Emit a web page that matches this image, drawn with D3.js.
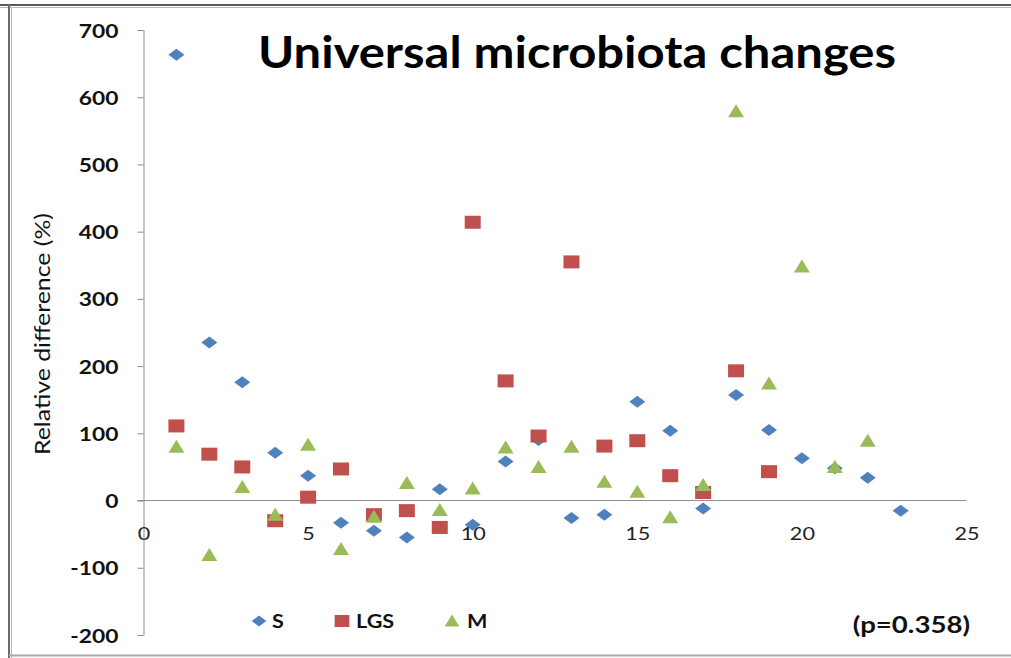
<!DOCTYPE html>
<html>
<head>
<meta charset="utf-8">
<script src="https://cdn.jsdelivr.net/npm/d3@7/dist/d3.min.js"></script>
<style>
  html, body { margin: 0; padding: 0; background: #fff; }
  svg { display: block; }
  text { font-family: Lato, "Open Sans", sans-serif; }
</style>
</head>
<body>
<svg id="chart" width="1011" height="658"></svg>
<script>
// Sample index along the x axis
const sampleIndex = d3.range(1, 24);

// Relative difference (%) per group
const seriesS   = [663, 235, 176, 71, 37, -33, -45, -55, 17, -36, 58, 90, -26, -21, 147, 104, -12, 157, 105, 63, 48, 34, -15];
const seriesLGS = [111, 69, 50, -30, 5, 47, -21, -15, -40, 414, 178, 96, 355, 81, 89, 37, 12, 193, 43];
const seriesM   = [80, -81, 20, -21, 83, -72, -24, 26, -14, 18, 79, 50, 80, 28, 13, -25, 23, 579, 174, 348, 50, 89];

const seriesNames = ["S", "LGS", "M"];
const seriesColors = ["#4F81BD", "#C0504D", "#9BBB59"];
const yTicks = [-200, -100, 0, 100, 200, 300, 400, 500, 600, 700];
const xTicks = [0, 5, 10, 15, 20, 25];

const titleText = "Universal microbiota changes";
const yLabelText = "Relative difference (%)";
const pValueText = "(p=0.358)";

// Text in this chart is set slightly wide
const WIDEN = 1.2;
function widen(sel) {
  sel.each(function () {
    const t = d3.select(this);
    const tx = +t.attr("x") || 0;
    const ty = +t.attr("y") || 0;
    t.attr("x", 0).attr("y", 0)
     .attr("transform", `translate(${tx},${ty}) scale(${WIDEN},1)`);
  });
}

// Plain hyphen-minus for negative tick values
const plainNumber = d => String(d);

const svg = d3.select("#chart");

// Frame round the whole chart
svg.append("line").attr("x1", 0).attr("x2", 1011).attr("y1", 5).attr("y2", 5)
  .attr("stroke", "#5a5a5a").attr("stroke-width", 2);
svg.append("line").attr("x1", 0).attr("x2", 1011).attr("y1", 7.5).attr("y2", 7.5)
  .attr("stroke", "#b8b8b8").attr("stroke-width", 1);
svg.append("line").attr("x1", 9).attr("x2", 9).attr("y1", 4).attr("y2", 658)
  .attr("stroke", "#6a6a6a").attr("stroke-width", 2);
svg.append("line").attr("x1", 11.5).attr("x2", 11.5).attr("y1", 7).attr("y2", 658)
  .attr("stroke", "#b8b8b8").attr("stroke-width", 1);
svg.append("line").attr("x1", 9).attr("x2", 1011).attr("y1", 655.5).attr("y2", 655.5)
  .attr("stroke", "#a8a8a8").attr("stroke-width", 2);

const x = d3.scaleLinear().domain([0, 25]).range([143.5, 966.5]);
const y = d3.scaleLinear().domain([-200, 700]).range([635, 30]);

// Y axis
const yAxis = svg.append("g")
  .attr("transform", `translate(${x(0)},0)`)
  .call(d3.axisLeft(y).tickValues(yTicks).tickFormat(plainNumber)
    .tickSize(6).tickSizeOuter(0).tickPadding(19));
yAxis.select(".domain").attr("stroke", "#8c8c8c");
yAxis.selectAll(".tick line").attr("stroke", "#8c8c8c");
yAxis.selectAll(".tick text")
  .attr("font-family", "Lato, sans-serif")
  .attr("font-size", 19).attr("font-weight", "bold").attr("fill", "#111")
  .attr("dy", null).attr("y", 7)
  .call(widen);

// X axis crossing at zero
const xAxis = svg.append("g")
  .attr("transform", `translate(0,${y(0)})`)
  .call(d3.axisBottom(x).tickValues(xTicks).tickFormat(plainNumber)
    .tickSize(0).tickSizeOuter(0).tickPadding(26));
xAxis.select(".domain").attr("stroke", "#8c8c8c").attr("d", `M${x(0) - 6},0H${x(25)}`);
xAxis.selectAll(".tick text")
  .attr("font-family", "Lato, sans-serif")
  .attr("font-size", 18).attr("fill", "#222")
  .attr("dy", null).attr("y", 39)
  .call(widen);

// Marker shapes, centred on the data point
const markerPath = {
  S:   "M-8,0L0,-6L8,0L0,6Z",
  LGS: "M-8,-6.5H8V6.5H-8Z",
  M:   "M-8,6L0,-7L8,6Z"
};

const allSeries = [seriesS, seriesLGS, seriesM];
allSeries.forEach((vals, i) => {
  const name = seriesNames[i];
  svg.append("g").selectAll("path")
    .data(vals.map((v, j) => ({ x: sampleIndex[j], v })))
    .join("path")
    .attr("d", markerPath[name])
    .attr("transform", d => `translate(${x(d.x)},${y(d.v)})`)
    .attr("fill", seriesColors[i]);
});

// Title
svg.append("text")
  .attr("x", 577).attr("y", 68)
  .attr("text-anchor", "middle")
  .attr("font-size", 43).attr("font-weight", "bold").attr("fill", "#000")
  .attr("textLength", 638).attr("lengthAdjust", "spacingAndGlyphs")
  .text(titleText);

// Y axis title
svg.append("text")
  .attr("transform", "translate(50,334) rotate(-90)")
  .attr("text-anchor", "middle")
  .attr("font-size", 22).attr("fill", "#111")
  .attr("textLength", 242).attr("lengthAdjust", "spacingAndGlyphs")
  .text(yLabelText);

// Legend
const legendX = [259, 342, 452];
const legendTextX = [272, 356, 467];
seriesNames.forEach((name, i) => {
  svg.append("path")
    .attr("d", markerPath[name])
    .attr("transform", `translate(${legendX[i]},621) scale(0.92)`)
    .attr("fill", seriesColors[i]);
  svg.append("text")
    .attr("x", legendTextX[i]).attr("y", 628)
    .attr("font-size", 18).attr("font-weight", "bold").attr("fill", "#111")
    .text(name)
    .call(widen);
});

// p-value note
svg.append("text")
  .attr("x", 970).attr("y", 633)
  .attr("text-anchor", "end")
  .attr("font-size", 23).attr("font-weight", "bold").attr("fill", "#111")
  .text(pValueText)
  .call(widen);
</script>
</body>
</html>
